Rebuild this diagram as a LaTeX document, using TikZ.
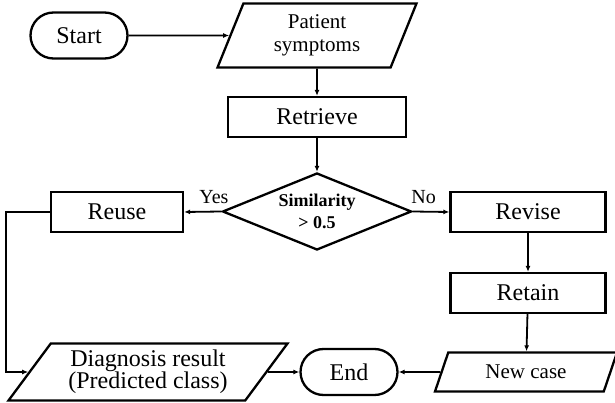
\documentclass[tikz,border=0pt]{standalone}
\usepackage{fontspec}
\setmainfont{Liberation Serif}
\usetikzlibrary{arrows, arrows.meta}
\usetikzlibrary{shapes.geometric, shapes.misc}
\usetikzlibrary{positioning}

\begin{document}
\begin{tikzpicture}[x=1pt, y=-1pt,
	terminal/.style={draw, line width=2.3pt, rounded rectangle, minimum width=97pt, minimum height=46pt, inner sep=0pt, font=\fontsize{24}{26}\selectfont},
	process/.style={draw, line width=2.3pt, rectangle, minimum height=40pt, inner sep=0pt, font=\fontsize{24}{26}\selectfont},
	io/.style={draw, line width=2.3pt, trapezium, trapezium stretches body, inner sep=0pt, align=center, font=\fontsize{21}{23}\selectfont},
	decision/.style={draw, line width=2.3pt, diamond, aspect=2.45, inner sep=0pt, minimum width=189pt, minimum height=77pt, align=center, font=\bfseries\fontsize{18}{22}\selectfont},
	flow/.style={line width=1.8pt, -{Latex[length=6pt,width=5pt]}},
	answer/.style={font=\fontsize{20}{22}\selectfont, inner sep=1pt}]
					% keep the page size
					\useasboundingbox (0,0) rectangle (615,403);
					% top row
					\node[terminal] (start) at (79,35.5) {Start};
					\node[io, trapezium left angle=58, trapezium right angle=122, minimum width=199pt, minimum height=64pt] (patient) at (317,35.5) {Patient\\symptoms};
					\node[process, minimum width=178pt] (retrieve) at (317,117) {Retrieve};
					\node[decision] (sim) at (317,211.5) {Similarity\\> 0.5};
					% branches
					\node[process, minimum width=132pt] (reuse) at (117,212) {Reuse};
					\node[process, minimum width=155pt] (revise) at (528,212) {Revise};
					\node[process, minimum width=155pt] (retain) at (528,293) {Retain};
					% bottom row
					\node[io, trapezium left angle=46, trapezium right angle=134, minimum width=279pt, minimum height=57pt, font=\fontsize{24}{22}\selectfont] (diag) at (148,372) {Diagnosis result\\(Predicted class)};
					\node[terminal] (end) at (349,372) {End};
					\node[io, trapezium left angle=46.5, trapezium right angle=133.5, minimum width=182pt, minimum height=39pt] (newcase) at (526,372) {New case};
					% connectors
					\draw[flow] (start) -- (patient);
					\draw[flow] (patient) -- (retrieve);
					\draw[flow] (retrieve) -- (sim);
					\draw[flow] (sim.west) -- node[answer, above=6pt, pos=0.2] {Yes} (reuse.east);
					\draw[flow] (sim.east) -- node[answer, above=6pt, pos=0.3] {No} (revise.west);
					\draw[flow] (revise) -- (retain);
					\draw[flow] (retain) -- (newcase);
					\draw[flow] (newcase) -- (end);
					\draw[flow] (diag) -- (end);
					\draw[flow] (reuse.west) -- ++(-44,0) |- (diag);
				\end{tikzpicture}
\end{document}
